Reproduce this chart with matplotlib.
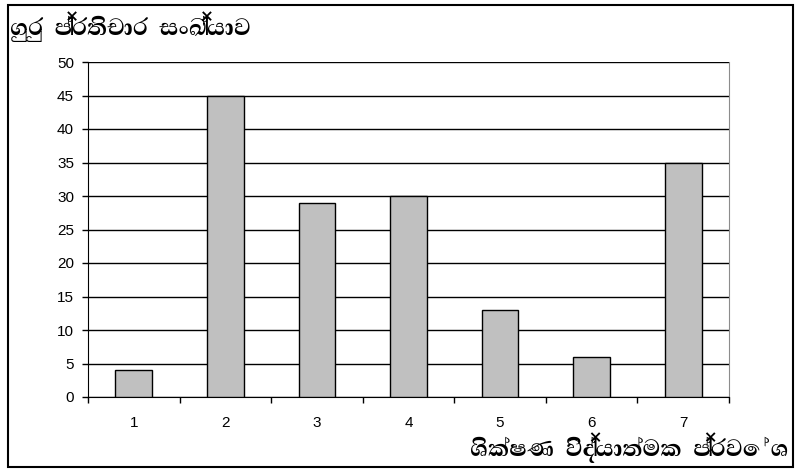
import matplotlib
matplotlib.use("Agg")
import matplotlib.pyplot as plt
from matplotlib.patches import Rectangle

# Teacher responses per pedagogical approach
categories = ["1", "2", "3", "4", "5", "6", "7"]
responses = [4, 45, 29, 30, 13, 6, 35]
y_ticks = [0, 5, 10, 15, 20, 25, 30, 35, 40, 45, 50]

title_text = "ගුරු  ප්‍රතිචාර  සංඛ්‍යාව"
xlabel_text = "ශික්ෂණ  විද්‍යාත්මක  ප්‍රවේශ"

W, H = 795, 471
fig = plt.figure(figsize=(W / 100, H / 100), dpi=100)

left, right, bottom, top = 88, 729, 397, 62
ax = fig.add_axes([left / W, 1 - bottom / H, (right - left) / W, (bottom - top) / H])

x = list(range(len(categories)))
ax.bar(x, responses, width=0.4, color="#C0C0C0", edgecolor="black", linewidth=1, zorder=3)

ax.set_xlim(-0.5, len(categories) - 0.5)
ax.set_ylim(0, 50)
ax.set_yticks(y_ticks)
ax.yaxis.grid(True, color="black", linewidth=1, zorder=1)
ax.set_axisbelow(True)

ax.set_xticks(x)
ax.set_xticklabels(categories)
ax.set_xticks([i - 0.5 for i in range(len(categories) + 1)], minor=True)
ax.tick_params(axis="x", which="major", length=0, pad=14)
ax.tick_params(axis="x", which="minor", length=4, direction="out", color="black", width=1)
ax.tick_params(axis="y", length=4, direction="out", color="black", width=1, pad=6)

for lbl in ax.get_xticklabels() + ax.get_yticklabels():
    lbl.set_fontfamily("Liberation Sans")
    lbl.set_fontsize(11)

ax.spines["top"].set_visible(False)
ax.spines["right"].set_color("#8C8C8C")
ax.spines["left"].set_color("black")
ax.spines["bottom"].set_color("black")

sinhala = ["Abhaya Libre", "Noto Sans Sinhala", "DejaVu Sans"]
fig.text(10 / W, 1 - 27 / H, title_text, family=sinhala, weight="bold",
         fontsize=21.5, ha="left", va="center")
fig.text(789 / W, 1 - 448 / H, xlabel_text, family=sinhala, weight="bold",
         fontsize=21.5, ha="right", va="center")

fig.add_artist(Rectangle((8 / W, 1 - 467 / H), (793 - 8) / W, (467 - 5) / H,
                         transform=fig.transFigure, fill=False,
                         edgecolor="black", linewidth=1.5))

fig.savefig("out.png", dpi=100)
